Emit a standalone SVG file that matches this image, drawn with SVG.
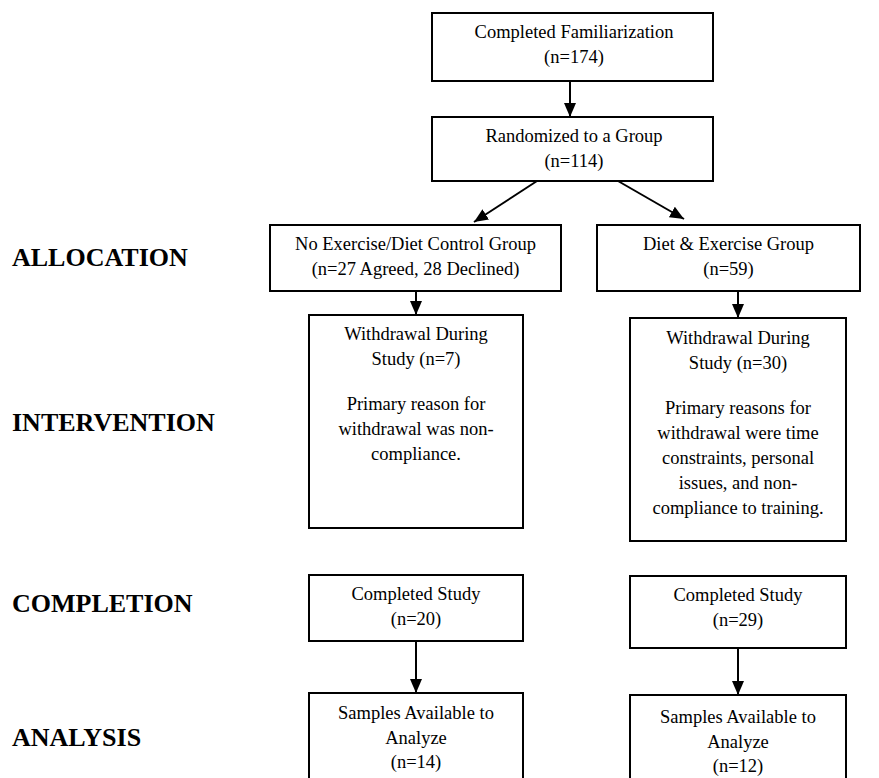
<svg xmlns="http://www.w3.org/2000/svg" width="879" height="778" viewBox="0 0 879 778">
<defs>
<style>
.box{fill:#fff;stroke:#000;stroke-width:2}
.t{font-family:"Liberation Serif","Times New Roman",serif;font-size:18.5px;fill:#000;text-anchor:middle}
.lbl{font-family:"Liberation Serif","Times New Roman",serif;font-size:26px;font-weight:bold;fill:#000}
.c{stroke:#000;stroke-width:2;fill:none;marker-end:url(#ah)}
</style>
<marker id="ah" markerUnits="userSpaceOnUse" markerWidth="14" markerHeight="14" viewBox="0 0 14 14" refX="14" refY="7" orient="auto">
<path d="M0,1 L14,7 L0,13 z" fill="#000"/>
</marker>
</defs>
<rect width="879" height="778" fill="#fff"/>
<g id="labels">
<text class="lbl" x="12" y="266">ALLOCATION</text>
<text class="lbl" x="12" y="431">INTERVENTION</text>
<text class="lbl" x="12" y="612">COMPLETION</text>
<text class="lbl" x="12" y="746">ANALYSIS</text>
</g>
<g id="connectors">
<line class="c" x1="570" y1="81" x2="570" y2="117"/>
<line class="c" x1="537" y1="181" x2="474" y2="222"/>
<line class="c" x1="618" y1="181" x2="684" y2="219"/>
<line class="c" x1="416" y1="291" x2="416" y2="315"/>
<line class="c" x1="738" y1="291" x2="738" y2="318"/>
<line class="c" x1="416" y1="641" x2="416" y2="693"/>
<line class="c" x1="738" y1="648" x2="738" y2="695"/>
</g>
<g id="n-familiarization">
<rect class="box" x="432" y="13" width="281" height="68"/>
<text class="t" x="574" y="38">Completed Familiarization</text>
<text class="t" x="574" y="63">(n=174)</text>
</g>
<g id="n-randomized">
<rect class="box" x="432" y="117" width="281" height="64"/>
<text class="t" x="574" y="142">Randomized to a Group</text>
<text class="t" x="574" y="167">(n=114)</text>
</g>
<g id="n-control">
<rect class="box" x="270" y="225" width="291" height="66"/>
<text class="t" x="415.5" y="250">No Exercise/Diet Control Group</text>
<text class="t" x="415.5" y="275">(n=27 Agreed, 28 Declined)</text>
</g>
<g id="n-diet">
<rect class="box" x="597" y="225" width="263" height="66"/>
<text class="t" x="728.5" y="250">Diet &amp; Exercise Group</text>
<text class="t" x="728.5" y="275">(n=59)</text>
</g>
<g id="n-withdraw-control">
<rect class="box" x="309" y="315" width="214" height="213"/>
<text class="t" x="416" y="340">Withdrawal During</text>
<text class="t" x="416" y="365">Study (n=7)</text>
<text class="t" x="416" y="410">Primary reason for</text>
<text class="t" x="416" y="435">withdrawal was non-</text>
<text class="t" x="416" y="460">compliance.</text>
</g>
<g id="n-withdraw-diet">
<rect class="box" x="630" y="318" width="216" height="223"/>
<text class="t" x="738" y="344">Withdrawal During</text>
<text class="t" x="738" y="369">Study (n=30)</text>
<text class="t" x="738" y="414">Primary reasons for</text>
<text class="t" x="738" y="439">withdrawal were time</text>
<text class="t" x="738" y="464">constraints, personal</text>
<text class="t" x="738" y="489">issues, and non-</text>
<text class="t" x="738" y="514">compliance to training.</text>
</g>
<g id="n-completed-control">
<rect class="box" x="309" y="575" width="214" height="66"/>
<text class="t" x="416" y="600">Completed Study</text>
<text class="t" x="416" y="625">(n=20)</text>
</g>
<g id="n-completed-diet">
<rect class="box" x="630" y="576" width="216" height="72"/>
<text class="t" x="738" y="601">Completed Study</text>
<text class="t" x="738" y="626">(n=29)</text>
</g>
<g id="n-analysis-control">
<rect class="box" x="309" y="693" width="214" height="95"/>
<text class="t" x="416" y="719">Samples Available to</text>
<text class="t" x="416" y="744">Analyze</text>
<text class="t" x="416" y="768">(n=14)</text>
</g>
<g id="n-analysis-diet">
<rect class="box" x="630" y="695" width="216" height="95"/>
<text class="t" x="738" y="723">Samples Available to</text>
<text class="t" x="738" y="748">Analyze</text>
<text class="t" x="738" y="772">(n=12)</text>
</g>
</svg>
